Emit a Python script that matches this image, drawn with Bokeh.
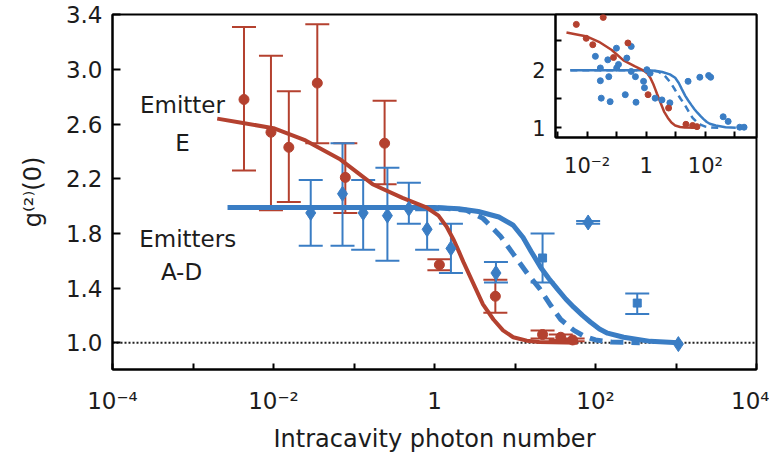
from bokeh.plotting import figure
from bokeh.models import (ColumnDataSource, Whisker, TeeHead, Span, Label, FixedTicker,
                          PrintfTickFormatter, CustomJSTickFormatter, Range1d, Column,
                          CDSView, GroupFilter)
from bokeh.embed import file_html
from bokeh.resources import INLINE

RED = "#B4412F"
BLUE = "#3A7DC4"
FONT = "DejaVu Sans"
TXT = "#1c1c1c"

# ---------------- data ----------------
# Emitter E (red), main panel
red_x = [0.0043, 0.0093, 0.0155, 0.035, 0.078, 0.24, 1.15, 5.7, 22, 37, 52]
red_y = [2.78, 2.54, 2.43, 2.90, 2.21, 2.46, 1.57, 1.34, 1.06, 1.04, 1.02]
red_lower = [2.26, 1.97, 2.03, 2.46, 1.95, 2.16, 1.53, 1.22, 1.03, 1.02, 1.01]
red_upper = [3.31, 3.10, 2.84, 3.33, 2.46, 2.77, 1.61, 1.46, 1.09, 1.06, 1.03]

# Emitters A-D (blue), main panel
blue_x = [0.029, 0.072, 0.13, 0.26, 0.48, 0.81, 1.6, 5.8, 22, 81, 330, 1070]
blue_y = [1.95, 2.09, 1.95, 1.93, 1.98, 1.83, 1.69, 1.51, 1.62, 1.88, 1.29, 0.99]
blue_lower = [1.71, 1.71, 1.68, 1.60, 1.87, 1.68, 1.51, 1.44, 1.44, 1.87, 1.21, 0.99]
blue_upper = [2.19, 2.46, 2.19, 2.28, 2.17, 1.97, 1.87, 1.59, 1.80, 1.89, 1.36, 0.99]
blue_marker = ["diamond", "diamond", "diamond", "diamond", "diamond", "diamond",
               "diamond", "diamond", "square", "diamond", "square", "diamond"]
blue_has_err = [True, True, True, True, True, True, True, True, True, True, True, False]

# fitted curves
red_fit_x = [0.0020, 0.0040, 0.010, 0.025, 0.068, 0.17, 0.40, 0.79, 1.12, 1.41, 1.74,
             2.0, 2.29, 3.0, 4.0, 5.4, 7.1, 9.5, 14, 20, 60]
red_fit_y = [2.64, 2.61, 2.57, 2.48, 2.34, 2.16, 2.06, 1.99, 1.93, 1.85, 1.75,
             1.67, 1.59, 1.44, 1.28, 1.17, 1.09, 1.04, 1.015, 1.005, 1.00]

blue_fit_x = [0.0027, 1.0, 2.0, 3.5, 6.3, 9.5, 12.6, 15.8, 20.9, 26.3, 33.9, 42.7,
              53.7, 69, 87, 112, 141, 224, 479, 1070]
blue_fit_y = [1.99, 1.99, 1.98, 1.96, 1.92, 1.86, 1.77, 1.67, 1.55, 1.47, 1.39, 1.32,
              1.26, 1.20, 1.15, 1.10, 1.07, 1.04, 1.01, 1.00]

blue_dash_x = [0.0027, 1.0, 2.5, 4.0, 6.6, 9.5, 14.5, 20, 28, 37, 54, 71, 100, 158, 355]
blue_dash_y = [1.99, 1.99, 1.97, 1.91, 1.78, 1.65, 1.50, 1.40, 1.27, 1.17, 1.09, 1.05,
               1.02, 1.005, 1.00]

# inset: all blue data points (red points are the same as in the main panel)
inset_blue_x = [0.019, 0.028, 0.030, 0.060, 0.054, 0.050, 0.098, 0.10, 0.115, 0.195,
                0.22, 0.31, 0.43, 0.45, 0.028, 0.81, 0.87, 1.05, 1.35, 2.0, 3.4, 6.3,
                26, 65, 129, 151, 400, 590, 1450, 2040, 0.31]
inset_blue_y = [2.23, 1.81, 1.51, 1.45, 1.88, 2.17, 2.37, 2.03, 2.09, 1.57,
                2.20, 2.40, 1.88, 1.44, 2.03, 1.80, 1.69, 2.00, 1.94, 1.51, 1.48, 1.43,
                1.80, 1.87, 1.90, 1.87, 1.19, 1.11, 1.01, 1.01, 1.97]

# ticks
x_tick_values = [1e-4, 1e-3, 1e-2, 1e-1, 1, 10, 100, 1e3, 1e4]
x_tick_labels = ["10⁻⁴", "", "10⁻²", "", "1", "", "10²", "", "10⁴"]
y_tick_values = [1.0, 1.4, 1.8, 2.2, 2.6, 3.0, 3.4]
inset_x_tick_values = [1e-3, 1e-2, 1e-1, 1, 10, 100, 1e3]
inset_x_tick_labels = ["", "10⁻²", "", "1", "", "10²", ""]
inset_y_tick_values = [1.0, 1.5, 2.0, 2.5]
inset_y_tick_labels = ["1", "", "2", ""]

LABEL_JS = """
for (let i = 0; i < vals.length; i++) {
  if (Math.abs(vals[i] - tick) <= 1e-6 * Math.abs(vals[i])) { return labs[i]; }
}
return "";
"""

# common borders (both figures share them so that column alignment changes nothing)
BORDERS = dict(min_border_left=112, min_border_right=13, min_border_top=14,
               min_border_bottom=85)

# ---------------- main figure ----------------
p = figure(width=769, height=455, x_axis_type="log",
           x_range=Range1d(1e-4, 1e4), y_range=Range1d(0.804, 3.402),
           output_backend="svg", toolbar_location=None, **BORDERS)
p.grid.visible = False
p.outline_line_color = "black"
p.outline_line_width = 2
p.outline_line_alpha = 1
p.background_fill_color = "white"
p.border_fill_color = "white"

xa = p.xaxis[0]
xa.ticker = FixedTicker(ticks=x_tick_values, minor_ticks=[])
xa.formatter = CustomJSTickFormatter(args=dict(vals=x_tick_values, labs=x_tick_labels),
                                     code=LABEL_JS)
xa.major_tick_in = 6
xa.major_label_standoff = 18
xa.axis_label = "Intracavity photon number"
xa.axis_label_standoff = 8

ya = p.yaxis[0]
ya.ticker = FixedTicker(ticks=y_tick_values, minor_ticks=[])
ya.formatter = PrintfTickFormatter(format="%.1f")
ya.major_tick_in = 8
ya.major_label_standoff = 10
ya.axis_label = "g⁽²⁾(0)"
ya.axis_label_standoff = 16

for ax in (xa, ya):
    ax.major_tick_out = 0
    ax.minor_tick_line_color = None
    ax.axis_line_width = 2
    ax.axis_line_color = "black"
    ax.major_tick_line_width = 2
    ax.major_tick_line_color = "black"
    ax.major_label_text_font = FONT
    ax.major_label_text_font_size = "23px"
    ax.major_label_text_color = TXT
    ax.axis_label_text_font = FONT
    ax.axis_label_text_font_size = "24px"
    ax.axis_label_text_font_style = "normal"
    ax.axis_label_text_color = TXT

dotted = Span(location=1.0, dimension="width", line_color="#222222", line_width=2,
              line_dash="2 2", level="underlay")
p.add_layout(dotted)

# error bars
src_red = ColumnDataSource(dict(x=red_x, y=red_y, lower=red_lower, upper=red_upper))
p.add_layout(Whisker(source=src_red, base="x", lower="lower", upper="upper",
                     dimension="height", line_color=RED, line_width=2,
                     upper_head=TeeHead(size=24, line_color=RED, line_width=2),
                     lower_head=TeeHead(size=24, line_color=RED, line_width=2)))

idx = [i for i, h in enumerate(blue_has_err) if h]
src_blue_err = ColumnDataSource(dict(x=[blue_x[i] for i in idx],
                                     lower=[blue_lower[i] for i in idx],
                                     upper=[blue_upper[i] for i in idx]))
p.add_layout(Whisker(source=src_blue_err, base="x", lower="lower", upper="upper",
                     dimension="height", line_color=BLUE, line_width=2,
                     upper_head=TeeHead(size=24, line_color=BLUE, line_width=2),
                     lower_head=TeeHead(size=24, line_color=BLUE, line_width=2)))

# fit curves
p.line(blue_dash_x, blue_dash_y, line_color=BLUE, line_width=5, line_dash="13 8")
p.line(blue_fit_x, blue_fit_y, line_color=BLUE, line_width=5)
p.line(red_fit_x, red_fit_y, line_color=RED, line_width=4)

# markers
src_blue = ColumnDataSource(dict(x=blue_x, y=blue_y, marker=blue_marker))
p.scatter("x", "y", source=src_blue, marker="diamond", size=15, fill_color=BLUE,
          line_color=BLUE, view=CDSView(filter=GroupFilter(column_name="marker", group="diamond")))
p.scatter("x", "y", source=src_blue, marker="square", size=8, fill_color=BLUE,
          line_color=BLUE, view=CDSView(filter=GroupFilter(column_name="marker", group="square")))
p.scatter("x", "y", source=src_red, marker="circle", size=10, fill_color=RED, line_color=RED)

for (lx, ly, txt) in [(7.4e-4, 2.74, "Emitter"), (7.4e-4, 2.46, "E"),
                      (8.6e-4, 1.76, "Emitters"), (7.2e-4, 1.52, "A-D")]:
    p.add_layout(Label(x=lx, y=ly, text=txt, text_align="center", text_baseline="middle",
                       text_font=FONT, text_font_size="23px", text_color=TXT))

# ---------------- inset ----------------
# frame 201 x 123 px; figure top-left placed over the main figure with margins
pi = figure(width=112 + 201 + 13, height=14 + 123 + 85, x_axis_type="log",
            x_range=Range1d(0.00085, 5370), y_range=Range1d(0.833, 2.95),
            output_backend="svg", toolbar_location=None,
            margin=(-455, 0, 233, 443), **BORDERS)
pi.grid.visible = False
pi.outline_line_color = "black"
pi.outline_line_width = 2
pi.outline_line_alpha = 1
pi.background_fill_color = "white"
pi.border_fill_alpha = 0

ixa = pi.xaxis[0]
ixa.ticker = FixedTicker(ticks=inset_x_tick_values, minor_ticks=[])
ixa.formatter = CustomJSTickFormatter(args=dict(vals=inset_x_tick_values,
                                                labs=inset_x_tick_labels), code=LABEL_JS)
ixa.major_label_standoff = 16
iya = pi.yaxis[0]
iya.ticker = FixedTicker(ticks=inset_y_tick_values, minor_ticks=[])
iya.formatter = CustomJSTickFormatter(args=dict(vals=inset_y_tick_values,
                                                labs=inset_y_tick_labels), code=LABEL_JS)
iya.major_label_standoff = 10
for ax in (ixa, iya):
    ax.major_tick_in = 6
    ax.major_tick_out = 0
    ax.minor_tick_line_color = None
    ax.axis_line_width = 2
    ax.axis_line_color = "black"
    ax.major_tick_line_width = 2
    ax.major_tick_line_color = "black"
    ax.major_label_text_font = FONT
    ax.major_label_text_font_size = "21px"
    ax.major_label_text_color = TXT

pi.line(blue_dash_x, blue_dash_y, line_color=BLUE, line_width=2.5, line_dash="7 5")
pi.line(blue_fit_x, blue_fit_y, line_color=BLUE, line_width=2.5)
pi.line(red_fit_x, red_fit_y, line_color=RED, line_width=2.5)
pi.scatter(inset_blue_x, inset_blue_y, marker="circle", size=6, fill_color=BLUE,
           line_color=BLUE)
pi.scatter(red_x, red_y, marker="circle", size=6, fill_color=RED, line_color=RED)

layout = Column(p, pi, spacing=0)

with open("out.html", "w") as f:
    f.write(file_html(layout, INLINE))
